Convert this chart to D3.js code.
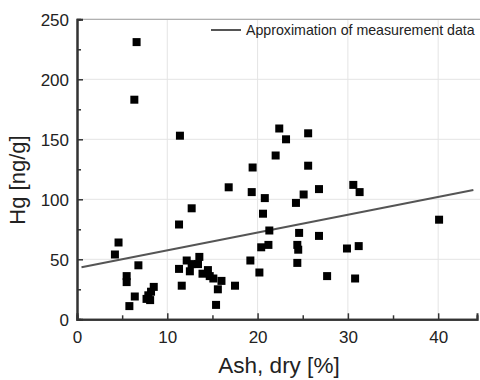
<!DOCTYPE html>
<html>
<head>
<meta charset="utf-8">
<script src="https://cdn.jsdelivr.net/npm/d3@7"></script>
<style>
  html, body { margin: 0; padding: 0; background: #fff; }
  svg { display: block; }
  text { font-family: "Liberation Sans", Arial, sans-serif; }
</style>
</head>
<body>
<svg id="chart" width="480" height="380"></svg>
<script>
// Measurement data: ash content (dry, %) and Hg (ng/g)
const ash = [6.6, 6.35, 11.4, 16.8, 12.7, 11.3, 4.6, 4.2, 6.8, 5.5, 5.5, 6.4, 5.8,
  8.5, 8.2, 7.9, 7.7, 8.1, 11.3, 11.6, 12.15, 12.7, 13.55, 13.4, 12.5, 13.9, 14.5,
  14.7, 15.1, 16.0, 15.6, 17.5, 15.4, 19.2, 20.2, 20.4, 21.2, 19.35, 20.8, 20.6,
  21.3, 24.25, 25.1, 26.8, 24.6, 24.4, 24.5, 24.4, 26.8, 27.7, 22.4, 23.15, 25.6,
  22.0, 19.45, 25.6, 30.6, 31.3, 40.1, 29.9, 31.2, 30.8];
const hg = [231, 183, 153, 110, 92.5, 79, 64, 54, 45, 36, 31, 19, 11,
  27, 23, 20, 17, 16, 42, 28, 49, 46, 52, 46, 40, 38, 41,
  36, 34, 32, 25, 28, 12, 49, 39, 60, 62, 106, 101, 88,
  74, 97, 104, 108.5, 72, 62, 58, 47, 69.5, 36, 159, 150, 155,
  136.5, 126.5, 128, 112, 106, 83, 59, 61, 34];

// Approximation line endpoints (ash %, Hg ng/g)
const fitX = [0.5, 43.9];
const fitY = [43.3, 107.7];

const xTicks = [0, 10, 20, 30, 40];
const xMinor = [5, 15, 25, 35];
const yTicks = [0, 50, 100, 150, 200, 250];
const yMinor = [25, 75, 125, 175, 225];
const legendLabel = "Approximation of measurement data";
const xTitle = "Ash, dry [%]";
const yTitle = "Hg [ng/g]";

const svg = d3.select("#chart");
const x = d3.scaleLinear().domain([0, 44.3]).range([77, 477]);
const y = d3.scaleLinear().domain([0, 250]).range([319.3, 19.3]);

// gridlines
const grid = svg.append("g");
grid.selectAll(".gx").data(xTicks.filter(d => d > 0)).join("line")
  .attr("x1", d => x(d)).attr("x2", d => x(d))
  .attr("y1", y(0)).attr("y2", y(250))
  .attr("stroke", "#e4e4e4").attr("stroke-width", 1);
grid.selectAll(".gy").data(yTicks.filter(d => d > 0)).join("line")
  .attr("x1", x(0)).attr("x2", 480)
  .attr("y1", d => y(d)).attr("y2", d => y(d))
  .attr("stroke", "#e4e4e4").attr("stroke-width", 1);
// top frame
svg.append("line").attr("x1", x(0)).attr("x2", 480)
  .attr("y1", y(250)).attr("y2", y(250))
  .attr("stroke", "#b0b0b0").attr("stroke-width", 1.2);

// axes with inward ticks
const xAxis = svg.append("g").attr("transform", `translate(0,${y(0)})`)
  .call(d3.axisBottom(x).tickValues(xTicks).tickSize(-6).tickPadding(12).tickFormat(d3.format("d")));
const xAxisMinor = svg.append("g").attr("transform", `translate(0,${y(0)})`)
  .call(d3.axisBottom(x).tickValues(xMinor).tickSize(-4).tickFormat(""));
const yAxis = svg.append("g").attr("transform", `translate(${x(0)},0)`)
  .call(d3.axisLeft(y).tickValues(yTicks).tickSize(-6).tickPadding(8).tickFormat(d3.format("d")));
const yAxisMinor = svg.append("g").attr("transform", `translate(${x(0)},0)`)
  .call(d3.axisLeft(y).tickValues(yMinor).tickSize(-4).tickFormat(""));

[xAxis, xAxisMinor, yAxis, yAxisMinor].forEach(g => {
  g.select(".domain").attr("stroke", "#333").attr("stroke-width", 2);
  g.selectAll(".tick line").attr("stroke", "#333").attr("stroke-width", 1.5);
  g.selectAll(".tick text").attr("fill", "#222").style("font-size", "17px")
    .style("font-family", '"Liberation Sans", Arial, sans-serif');
});
yAxis.selectAll(".tick text").attr("dy", "0.36em");

// fit line
svg.append("line")
  .attr("x1", x(fitX[0])).attr("y1", y(fitY[0]))
  .attr("x2", x(fitX[1])).attr("y2", y(fitY[1]))
  .attr("stroke", "#555").attr("stroke-width", 2);

// points
const pts = ash.map((a, i) => ({ a, h: hg[i] }));
const s = 8;
svg.append("g").selectAll("rect").data(pts).join("rect")
  .attr("x", d => x(d.a) - s / 2).attr("y", d => y(d.h) - s / 2)
  .attr("width", s).attr("height", s).attr("fill", "#000");

// legend
svg.append("line").attr("x1", 211).attr("x2", 241).attr("y1", 30).attr("y2", 30)
  .attr("stroke", "#555").attr("stroke-width", 2);
svg.append("text").attr("x", 246).attr("y", 35).attr("fill", "#222")
  .style("font-size", "14.2px").text(legendLabel);

// titles
svg.append("text").attr("x", 279).attr("y", 373).attr("text-anchor", "middle")
  .attr("fill", "#222").style("font-size", "22.5px").text(xTitle);
svg.append("text").attr("transform", "translate(25,180) rotate(-90)")
  .attr("text-anchor", "middle").attr("fill", "#222").style("font-size", "22px").text(yTitle);
</script>
</body>
</html>
